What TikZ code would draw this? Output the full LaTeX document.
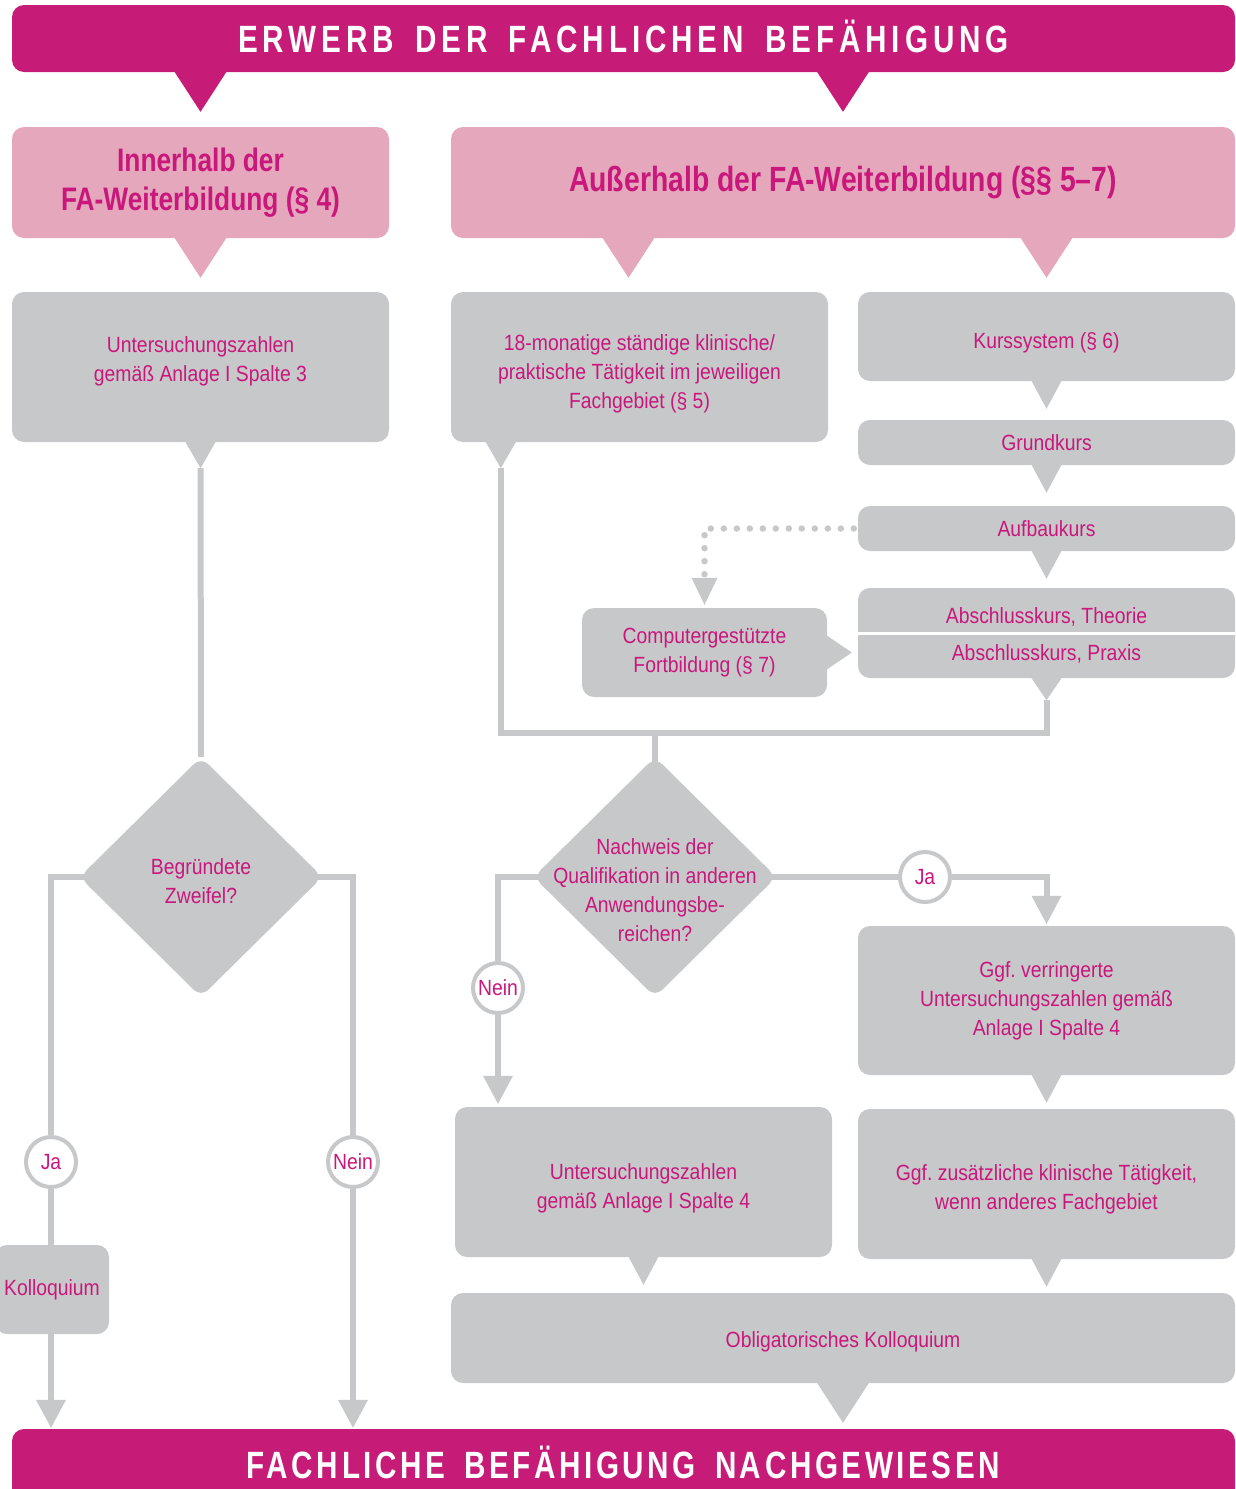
\documentclass[tikz,border=0pt]{standalone}
\usepackage{fontspec}
\setmainfont{Liberation Sans}[FakeStretch=0.88]
\newfontfamily\headfont{Liberation Sans}[FakeStretch=0.81]
\newfontfamily\bannerfont{Liberation Sans}[FakeStretch=0.78,LetterSpace=13,WordSpace=1.6]
\newfontfamily\footfont{Liberation Sans}[FakeStretch=0.78,LetterSpace=9.5,WordSpace=1.6]
\usetikzlibrary{arrows.meta,shapes.geometric,calc}
\frenchspacing

\definecolor{famagenta}{HTML}{C71B78}
\definecolor{fatext}{HTML}{C9177C}
\definecolor{fapink}{HTML}{E4A7BB}
\definecolor{fagray}{HTML}{C7C8CA}

\tikzset{
    banner/.style={fill=famagenta, rounded corners=12pt, inner sep=0pt, text=white,
        text height=27pt, text depth=0pt},
    head/.style={fill=fapink, rounded corners=12pt, inner sep=0pt, align=center, text=fatext,
        font=\headfont\bfseries\fontsize{35}{39}\selectfont},
    box/.style={fill=fagray, rounded corners=12pt, inner sep=0pt, align=center, text=fatext,
        font=\fontsize{22}{29}\selectfont},
    boxtext/.style={align=center, text=fatext, inner sep=0pt, font=\fontsize{22}{29}\selectfont},
    query/.style={diamond, fill=fagray, rounded corners=10pt, inner sep=0pt,
        minimum width=243pt, minimum height=240pt},
    answer/.style={circle, draw=fagray, line width=4pt, fill=white, minimum size=50pt, inner sep=0pt,
        text=fatext, font=\fontsize{22}{29}\selectfont},
    flow/.style={draw=fagray, line width=6pt},
    flowto/.style={flow, -{Triangle[width=30pt,length=28pt,line width=0pt]}},
    droptab/.style={flow, {Triangle[reversed,width=30pt,length=26pt,line width=0pt]}-},
    bothtab/.style={flow, {Triangle[reversed,width=30pt,length=26pt,line width=0pt]}-{Triangle[reversed,width=30pt,length=22pt,line width=0pt]}},
    tab/.style={draw=fagray, line width=1pt, -{Triangle[width=30pt,length=28pt,line width=0pt]}},
    bigtab/.style={draw=#1, line width=1pt, -{Triangle[width=52pt,length=40pt,line width=0pt]}},
    dots/.style={draw=fagray, line width=6.5pt, line cap=round, dash pattern=on 0pt off 13pt,
        -{Triangle[width=26pt,length=27pt,line width=0pt]}}
}

\begin{document}
\begin{tikzpicture}[x=1pt, y=-1pt]
        \useasboundingbox (0,0) rectangle (1235,1489);

        \node[banner, minimum width=1223pt, minimum height=67pt, font=\bannerfont\bfseries\fontsize{38}{40}\selectfont] (ERW) at (623.5,38.5) {ERWERB DER FACHLICHEN BEFÄHIGUNG};
        \node[banner, minimum width=1223pt, minimum height=72pt, font=\footfont\bfseries\fontsize{38}{40}\selectfont] (NACH) at (623.5,1465) {FACHLICHE BEFÄHIGUNG NACHGEWIESEN};

        \node[head, minimum width=377pt, minimum height=111pt, font=\headfont\bfseries\fontsize{32.5}{39}\selectfont] (INN) at (200.5,182.5) {Innerhalb der\\FA-Weiterbildung (§ 4)};
        \node[head, minimum width=784pt, minimum height=111pt] (AUS) at (843,182.5) {Außerhalb der FA-Weiterbildung (§§ 5–7)};

        \node[box, minimum width=377pt, minimum height=150pt] (UZ3) at (200.5,367) {Untersuchungszahlen\\gemäß Anlage I Spalte 3\\[-14pt]};
        \node[box, minimum width=377pt, minimum height=150pt] (KT18) at (639.5,367) {\\[1pt]18-monatige ständige klinische/\\praktische Tätigkeit im jeweiligen\\Fachgebiet (§ 5)};
        \node[box, minimum width=377pt, minimum height=89pt] (KS) at (1046.5,336.5) {\\[-1pt]Kurssystem (§ 6)};
        \node[box, minimum width=377pt, minimum height=45pt] (GK) at (1046.5,442.5) {Grundkurs};
        \node[box, minimum width=377pt, minimum height=45pt] (AK) at (1046.5,528.5) {Aufbaukurs};
        \node[box, minimum width=377pt, minimum height=90pt] (ABK) at (1046.5,633) {};
        \draw[white, line width=3pt] (ABK.west) -- (ABK.east);
        \node[boxtext] (ABT) at (1046.5,617) {Abschlusskurs, Theorie};
        \node[boxtext] (ABP) at (1046.5,654) {Abschlusskurs, Praxis};
        \node[box, minimum width=245pt, minimum height=89pt] (CF) at (704.5,652.5) {Computergestützte\\Fortbildung (§ 7)};

        \node[query] (ZW) at (201,877) {};
        \node[boxtext] (ZWt) at (201,881) {Begründete\\Zweifel?};
        \node[query] (NQ) at (655,877) {};
        \node[boxtext] (NQt) at (655,890) {Nachweis der\\Qualifikation in anderen\\Anwendungsbe-\\reichen?};

        \node[answer] (JA1) at (51,1162) {Ja};
        \node[answer] (NE1) at (353,1162) {Nein};
        \node[answer] (NE2) at (498,988) {Nein};
        \node[answer] (JA2) at (925,877) {Ja};

        \node[box, minimum width=114pt, minimum height=89pt] (KOL) at (52,1289.5) {Kolloquium};
        \node[box, minimum width=377pt, minimum height=149pt] (UZV) at (1046.5,1000.5) {Ggf. verringerte\\Untersuchungszahlen gemäß\\Anlage I Spalte 4};
        \node[box, minimum width=377pt, minimum height=150pt] (UZ4) at (643.5,1182) {\\[-1pt]Untersuchungszahlen\\gemäß Anlage I Spalte 4};
        \node[box, minimum width=377pt, minimum height=150pt] (ZKT) at (1046.5,1184) {\\[-3pt]Ggf. zusätzliche klinische Tätigkeit,\\wenn anderes Fachgebiet};
        \node[box, minimum width=784pt, minimum height=90pt] (OK) at (843,1338) {\\[-5pt]Obligatorisches Kolloquium};

        \coordinate (KTin) at ([xshift=-11pt]KT18.north);
        \coordinate (KTout) at ([xshift=50pt]KT18.south west);
        \coordinate (J) at ([yshift=24pt]NQ.north);

        \draw[bigtab=famagenta, shorten >=15pt] (ERW.south -| INN.north) -- (INN.north);
        \draw[bigtab=famagenta, shorten >=15pt] (ERW.south -| AUS.north) -- (AUS.north);
        \draw[bigtab=fapink, shorten >=14pt] (INN.south) -- (UZ3.north);
        \draw[bigtab=fapink, shorten >=14pt] (AUS.south -| KTin) -- (KTin);
        \draw[bigtab=fapink, shorten >=14pt] (AUS.south -| KS.north) -- (KS.north);

        \draw[tab, shorten >=11pt] (KS.south) -- (GK.north);
        \draw[tab, shorten >=13pt] (GK.south) -- (AK.north);
        \draw[tab, shorten >=9pt] (AK.south) -- (ABK.north);
        \draw[dots, shorten >=3pt] ([xshift=-4pt]AK.west) -| (CF.north);
        \draw[draw=fagray, line width=1pt, -{Triangle[width=34pt,length=25pt,line width=0pt]}, shorten >=6pt] (CF.east) -- (CF.east -| ABK.west);

        \draw[droptab] (UZ3.south) -- (ZW.north);
        \draw[bothtab] (KTout) -- (KTout |- J) -| (ABK.south);
        \draw[flow] (J) -- ([yshift=-8pt]NQ.north);

        \draw[flow] ([xshift=8pt]ZW.west) -| (JA1);
        \draw[flow] (JA1) -- (JA1 |- KOL.north);
        \draw[flowto, shorten >=1pt] (JA1 |- KOL.south) -- (JA1 |- NACH.north);
        \draw[flow] ([xshift=-8pt]ZW.east) -| (NE1);
        \draw[flowto, shorten >=1pt] (NE1) -- (NE1 |- NACH.north);

        \draw[flow] ([xshift=8pt]NQ.west) -| (NE2);
        \draw[flowto, shorten >=3pt] (NE2) -- (NE2 |- UZ4.north);
        \draw[flow] ([xshift=-8pt]NQ.east) -- (JA2);
        \draw[flowto, shorten >=2pt] (JA2) -| (UZV.north);

        \draw[tab, shorten >=6pt] (UZV.south) -- (ZKT.north);
        \draw[tab, shorten >=8pt] (UZ4.south) -- (UZ4.south |- OK.north);
        \draw[tab, shorten >=6pt] (ZKT.south) -- (ZKT.south |- OK.north);
        \draw[bigtab=fagray, shorten >=6pt] (OK.south) -- (OK.south |- NACH.north);
\end{tikzpicture}
\end{document}
